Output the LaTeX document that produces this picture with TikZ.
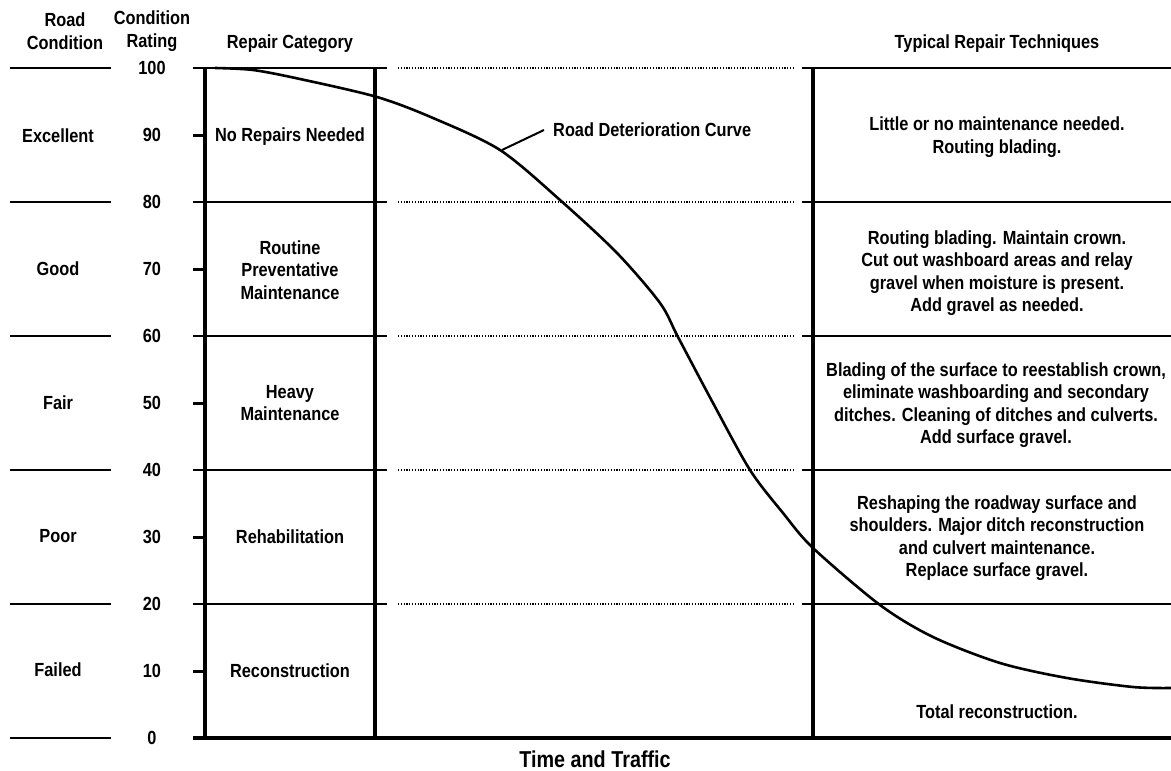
\documentclass[tikz,border=0pt]{standalone}
\usepackage{fontspec}
\setmainfont{Liberation Sans}[FakeStretch=0.86]
\begin{document}
\begin{tikzpicture}[x=1pt,y=-1pt,
  lbl/.style={font=\fontsize{19}{22.5}\selectfont\bfseries, align=center, inner sep=0pt},
  bigl/.style={font=\fontsize{23}{26}\selectfont\bfseries, inner sep=0pt},
  hline/.style={line width=1.8pt},
  bar/.style={line width=4.8pt},
  dots/.style={line width=1.6pt, dash pattern=on 1.2pt off 1.6pt},
  tickmark/.style={line width=3pt},
  curve/.style={line width=2.6pt, line join=round}]
\useasboundingbox (0,0) rectangle (1171,771);
\fill[white] (0,0) rectangle (1171,771);

% headers
\node[lbl] (h1) at (65,31) {Road\\Condition};
\node[lbl] (h2) at (152,31) {Condition\\Rating};
\node[lbl] (h3) at (290,44) {Repair Category};
\node[lbl] (h4) at (997,44) {Typical Repair Techniques};

% levels
\foreach \v in {0,20,...,100}{
  \pgfmathsetmacro\yy{738-6.7*\v}
  \draw[hline] (10,\yy) -- (111,\yy);
}
\foreach \v in {20,40,...,100}{
  \pgfmathsetmacro\yy{738-6.7*\v}
  \draw[hline] (193,\yy) -- (387,\yy);
  \draw[dots] (398,\yy) -- (795,\yy);
  \draw[hline] (802,\yy) -- (1171,\yy);
}
\foreach \v in {10,30,...,90}{
  \pgfmathsetmacro\yy{738-6.7*\v}
  \draw[tickmark] (193,\yy) -- (205,\yy);
}
\foreach \v in {0,10,...,100}{
  \pgfmathsetmacro\yy{738-6.7*\v}
  \node[lbl] (r\v) at (152,\yy) {\v};
}

% bars
\draw[bar] (205,67) -- (205,740);
\draw[bar] (375,67) -- (375,740);
\draw[bar] (813,67) -- (813,740);
\draw[bar] (193,738) -- (1171,738);

% road condition
\node[lbl] (c1) at (58,136) {Excellent};
\node[lbl] (c2) at (58,269) {Good};
\node[lbl] (c3) at (58,403) {Fair};
\node[lbl] (c4) at (58,536) {Poor};
\node[lbl] (c5) at (58,670) {Failed};

% repair category
\node[lbl] (k1) at (290,137) {No Repairs Needed};
\node[lbl] (k2) at (290,270) {Routine\\Preventative\\Maintenance};
\node[lbl] (k3) at (290,403) {Heavy\\Maintenance};
\node[lbl] (k4) at (290,537) {Rehabilitation};
\node[lbl] (k5) at (290,671) {Reconstruction};

% techniques
\node[lbl] (t1) at (997,137) {Little or no maintenance needed.\\Routing blading.};
\node[lbl] (t2) at (997,273) {Routing blading. Maintain crown.\\Cut out washboard areas and relay\\gravel when moisture is present.\\Add gravel as needed.};
\node[lbl] (t3) at (996,405) {Blading of the surface to reestablish crown,\\eliminate washboarding and secondary\\ditches. Cleaning of ditches and culverts.\\Add surface gravel.};
\node[lbl] (t4) at (997,538) {Reshaping the roadway surface and\\shoulders. Major ditch reconstruction\\and culvert maintenance.\\Replace surface gravel.};
\node[lbl] (t5) at (997,712) {Total reconstruction.};

% curve
\draw[curve] plot[smooth,tension=0.5] coordinates {
 (215,68) (253,70) (300,79) (377,97) (433,118) (500,150) (560,200) (617,253)
 (660,303) (678,337) (713,403) (750,470) (783,513) (813,548) (880,605)
 (933,637) (1000,663) (1067,678) (1133,687) (1171,688)};

\node[lbl, anchor=west] (rdc) at (553,130) {Road Deterioration Curve};
\coordinate (lc) at (502,150);
\draw[line width=2pt] ([xshift=-9pt]rdc.west) -- (lc);

\node[bigl] (tt) at (595,759) {Time and Traffic};
\end{tikzpicture}
\end{document}
